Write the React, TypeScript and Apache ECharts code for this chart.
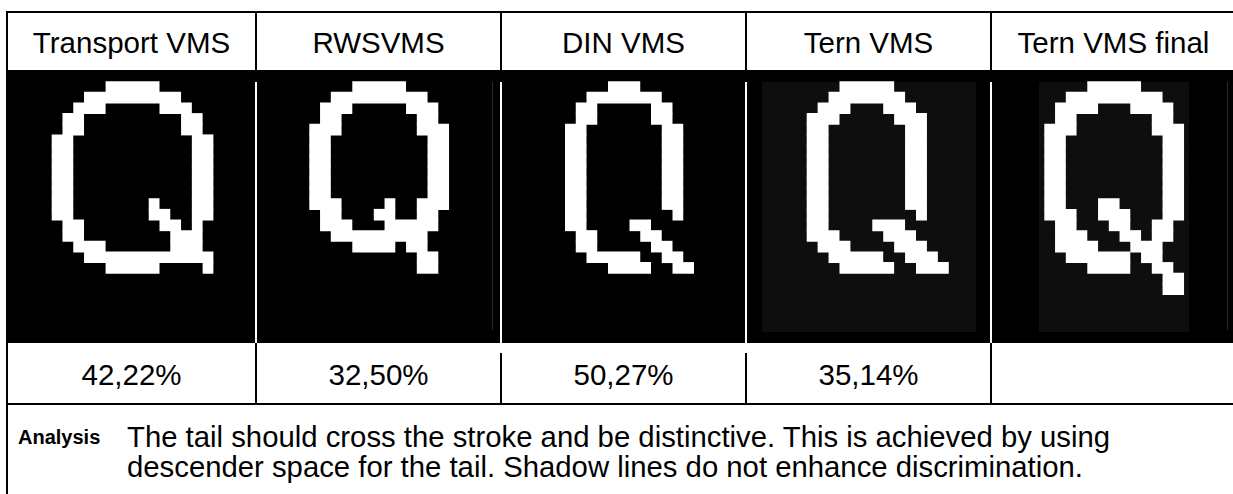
import React, { useEffect, useRef } from "react";
import * as echarts from "echarts";

// ---------- data ----------
const headers = ["Transport VMS", "RWSVMS", "DIN VMS", "Tern VMS", "Tern VMS final"];
const scores = ["42,22%", "32,50%", "50,27%", "35,14%", ""];
const analysisLabel = "Analysis";
const analysisLines = [
  "The tail should cross the stroke and be distinctive. This is achieved by using",
  "descender space for the tail. Shadow lines do not enhance discrimination.",
];

// glyph bitmaps ('#' = lit LED pixel)
const glyphTransport = [
  ".....#####.....",
  "...#########...",
  "..###.....###..",
  ".##.........##.",
  ".##.........##.",
  "##...........##",
  "##...........##",
  "##...........##",
  "##...........##",
  "##...........##",
  "##...........##",
  "##.......#...##",
  "##.......##..##",
  ".##.......##.#.",
  ".##........###.",
  "..###......###.",
  "...############",
  ".....#####....#",
];
const glyphRws = [
  "....#####....",
  "..#########..",
  ".###.....###.",
  ".##.......##.",
  "###.......###",
  "##.........##",
  "##.........##",
  "##.........##",
  "##.........##",
  "##.........##",
  "##.........##",
  "###....#..###",
  ".##...##..##.",
  ".###...#####.",
  "..#########..",
  "....####.##..",
  "..........##.",
  "..........##.",
];
const glyphDin = [
  "....###.....",
  "..#######...",
  ".##.....##..",
  ".##.....##..",
  "##.......##.",
  "##.......##.",
  "##.......##.",
  "##.......##.",
  "##.......##.",
  "##.......##.",
  "##.......##.",
  "##.......##.",
  "##........#.",
  "##....##....",
  ".##....##...",
  ".##.....##..",
  "..#####..##.",
  "....####..##",
];
const glyphTern = [
  "...#####.....",
  "..#######....",
  ".###...###...",
  "###.....###..",
  "##.......##..",
  "##.......##..",
  "##.......##..",
  "##.......##..",
  "##.......##..",
  "##.......##..",
  "##.......##..",
  "##.......##..",
  "##........#..",
  "##....###....",
  "###....###...",
  ".###....###..",
  "..#####..###.",
  "...#####..###",
];
const glyphTernFinal = [
  "....#####....",
  "..#########..",
  ".####...####.",
  ".##.......##.",
  "###.......###",
  "##.........##",
  "##.........##",
  "##.........##",
  "##.........##",
  "##.........##",
  "##.........##",
  "##...##....##",
  "###..###...##",
  ".##...##..##.",
  ".###...##.##.",
  ".####...###..",
  "..######.##..",
  "....####..##.",
  "...........##",
  "...........##",
];
const glyphs = [glyphTransport, glyphRws, glyphDin, glyphTern, glyphTernFinal];

// ---------- layout ----------
const W = 1233;
const H = 494;
const COL_EDGES = [7, 256, 501, 746, 991, 1236];
const ROW_TOP = 12;
const ROW_HEAD_BOTTOM = 71;
const ROW_IMG_BOTTOM = 343;
const ROW_VAL_BOTTOM = 404;
const GLYPH_LAYOUT = [
  { left: 51.7, top: 81.7, px: 10.78, py: 10.64 },
  { left: 309.3, top: 81.7, px: 10.75, py: 10.64 },
  { left: 565, top: 81.7, px: 10.75, py: 10.64 },
  { left: 806.7, top: 81.7, px: 10.93, py: 10.64 },
  { left: 1044.3, top: 81.7, px: 10.75, py: 10.64 },
];
const FONT = '"Liberation Sans", Arial, sans-serif';

// horizontal runs of lit pixels: [startCol, row, endCol]
function toRuns(g: string[]) {
  const out: number[][] = [];
  g.forEach((row, r) => {
    let c = 0;
    while (c < row.length) {
      if (row[c] === "#") {
        let e = c;
        while (e + 1 < row.length && row[e + 1] === "#") e++;
        out.push([c, r, e]);
        c = e + 1;
      } else c++;
    }
  });
  return out;
}

function range(n: number) {
  return Array.from({ length: n }, (_, i) => String(i));
}

function txt(x: number, y: number, text: string, font: string, align = "center") {
  return {
    type: "text",
    z: 30,
    x,
    y,
    style: {
      text,
      font,
      fill: "#000",
      align,
      verticalAlign: "middle",
      textAlign: align,
      textVerticalAlign: "middle",
    },
  };
}

function line(x1: number, y1: number, x2: number, y2: number, color: string, w: number) {
  return {
    type: "line",
    z: 25,
    shape: { x1, y1, x2, y2 },
    style: { stroke: color, lineWidth: w },
  };
}

function rect(x: number, y: number, w: number, h: number, fill: string, z = 1) {
  return { type: "rect", z, shape: { x, y, width: w, height: h }, style: { fill } };
}

export default function App() {
  const ref = useRef<HTMLDivElement>(null);
  useEffect(() => {
    if (!ref.current) return;
    const chart = echarts.init(ref.current, undefined, { renderer: "svg" });

    const grids: any[] = [];
    const xAxes: any[] = [];
    const yAxes: any[] = [];
    const series: any[] = [];
    glyphs.forEach((g, i) => {
      const L = GLYPH_LAYOUT[i];
      const cols = g[0].length;
      const rows = g.length;
      grids.push({ left: L.left, top: L.top, width: cols * L.px, height: rows * L.py, containLabel: false });
      xAxes.push({ type: "category", gridIndex: i, data: range(cols), show: false });
      yAxes.push({ type: "category", gridIndex: i, data: range(rows), inverse: true, show: false });
      series.push({
        type: "custom",
        xAxisIndex: i,
        yAxisIndex: i,
        z: 10,
        silent: true,
        data: toRuns(g),
        encode: { x: [0, 2], y: 1 },
        renderItem: (_p: any, api: any) => {
          const a = api.coord([api.value(0), api.value(1)]);
          const b = api.coord([api.value(2), api.value(1)]);
          const s = api.size([1, 1]);
          const x0 = a[0] - s[0] / 2;
          const y0 = a[1] - s[1] / 2;
          return {
            type: "rect",
            shape: { x: x0, y: y0 - 0.5, width: b[0] - a[0] + s[0], height: s[1] + 1 },
            style: { fill: "#ffffff" },
          };
        },
      });
    });

    const gfx: any[] = [];
    // image row background
    gfx.push(rect(COL_EDGES[0], ROW_HEAD_BOTTOM, W - COL_EDGES[0], ROW_IMG_BOTTOM - ROW_HEAD_BOTTOM, "#000000", 0));
    gfx.push(rect(762, 82, 214, 250, "#0e0e0e", 1));
    gfx.push(rect(1039, 82, 150, 250, "#0e0e0e", 1));
    // white gaps between images
    for (let k = 1; k < 5; k++) gfx.push(line(COL_EDGES[k], 82, COL_EDGES[k], ROW_IMG_BOTTOM, "#ffffff", 2));
    gfx.push(line(492.5, 82, 492.5, 330, "#2a2a2a", 1));
    gfx.push(line(1227.5, 82, 1227.5, 330, "#2a2a2a", 1));

    // table borders
    gfx.push(line(COL_EDGES[0] - 1, ROW_TOP, W, ROW_TOP, "#000", 2));
    gfx.push(line(COL_EDGES[0], ROW_TOP, COL_EDGES[0], H, "#000", 2));
    for (let k = 1; k < 5; k++) gfx.push(line(COL_EDGES[k], ROW_TOP, COL_EDGES[k], ROW_HEAD_BOTTOM, "#000", 2));
    gfx.push(line(COL_EDGES[0], ROW_HEAD_BOTTOM, W, ROW_HEAD_BOTTOM, "#000", 2));
    const valStart = [0, ROW_IMG_BOTTOM, ROW_IMG_BOTTOM + 10, ROW_IMG_BOTTOM + 10, ROW_IMG_BOTTOM];
    for (let k = 1; k < 5; k++) gfx.push(line(COL_EDGES[k], valStart[k], COL_EDGES[k], ROW_VAL_BOTTOM, "#000", 2));
    gfx.push(line(COL_EDGES[0], ROW_VAL_BOTTOM, W, ROW_VAL_BOTTOM, "#000", 2));

    // texts
    headers.forEach((h, i) => {
      const cx = (COL_EDGES[i] + COL_EDGES[i + 1]) / 2;
      gfx.push(txt(cx, 42, h, `29.5px ${FONT}`));
    });
    scores.forEach((s, i) => {
      if (!s) return;
      const cx = (COL_EDGES[i] + COL_EDGES[i + 1]) / 2;
      gfx.push(txt(cx, 374, s, `29.5px ${FONT}`));
    });
    gfx.push(txt(18, 437, analysisLabel, `bold 20px ${FONT}`, "left"));
    analysisLines.forEach((l, i) => {
      gfx.push(txt(127, 436 + i * 30, l, `29.3px ${FONT}`, "left"));
    });

    chart.setOption({
      animation: false,
      backgroundColor: "#ffffff",
      grid: grids,
      xAxis: xAxes,
      yAxis: yAxes,
      series,
      graphic: { elements: gfx },
    });
    return () => chart.dispose();
  }, []);

  return (
    <div
      ref={ref}
      style={{ position: "fixed", left: 0, top: 0, width: W, height: H }}
    />
  );
}
